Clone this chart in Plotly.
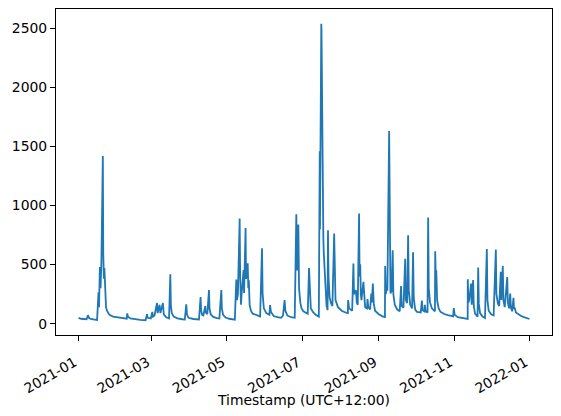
import pandas as pd
import plotly.graph_objects as go

# river flow readings
timestamps = [
    "2021-01-01 00:00", "2021-01-03 00:00", "2021-01-07 12:00", "2021-01-08 14:00", "2021-01-09 12:00",
    "2021-01-11 00:00", "2021-01-14 00:00", "2021-01-16 00:00", "2021-01-17 04:00", "2021-01-17 14:00",
    "2021-01-18 06:00", "2021-01-18 20:00", "2021-01-19 12:00", "2021-01-20 16:00", "2021-01-21 00:00",
    "2021-01-21 12:00", "2021-01-21 22:00", "2021-01-22 12:00", "2021-01-23 06:00", "2021-01-24 00:00",
    "2021-01-26 00:00", "2021-01-29 00:00", "2021-02-02 00:00", "2021-02-06 00:00", "2021-02-09 00:00",
    "2021-02-09 10:00", "2021-02-10 00:00", "2021-02-12 00:00", "2021-02-16 00:00", "2021-02-20 00:00",
    "2021-02-24 06:00", "2021-02-25 10:00", "2021-02-26 00:00", "2021-02-28 12:00", "2021-03-01 17:00",
    "2021-03-02 06:00", "2021-03-03 12:00", "2021-03-05 12:00", "2021-03-06 00:00", "2021-03-07 14:00",
    "2021-03-08 06:00", "2021-03-10 07:00", "2021-03-11 00:00", "2021-03-13 00:00", "2021-03-15 06:00",
    "2021-03-16 07:00", "2021-03-16 18:00", "2021-03-17 12:00", "2021-03-19 00:00", "2021-03-22 00:00",
    "2021-03-26 00:00", "2021-03-28 00:00", "2021-03-29 05:00", "2021-03-29 18:00", "2021-03-31 00:00",
    "2021-04-04 00:00", "2021-04-08 12:00", "2021-04-09 19:00", "2021-04-10 06:00", "2021-04-11 00:00",
    "2021-04-12 00:00", "2021-04-13 14:00", "2021-04-14 00:00", "2021-04-15 06:00", "2021-04-16 14:00",
    "2021-04-17 00:00", "2021-04-18 00:00", "2021-04-20 00:00", "2021-04-23 00:00", "2021-04-25 00:00",
    "2021-04-26 14:00", "2021-04-27 00:00", "2021-04-28 00:00", "2021-04-30 00:00", "2021-05-03 00:00",
    "2021-05-06 00:00", "2021-05-07 12:00", "2021-05-08 17:00", "2021-05-09 06:00", "2021-05-10 00:00",
    "2021-05-11 10:00", "2021-05-11 20:00", "2021-05-12 12:00", "2021-05-13 00:00", "2021-05-14 14:00",
    "2021-05-15 00:00", "2021-05-16 05:00", "2021-05-16 14:00", "2021-05-17 22:00", "2021-05-18 10:00",
    "2021-05-18 20:00", "2021-05-19 12:00", "2021-05-20 12:00", "2021-05-22 00:00", "2021-05-25 00:00",
    "2021-05-28 00:00", "2021-05-29 12:00", "2021-05-30 00:00", "2021-05-31 00:00", "2021-06-02 00:00",
    "2021-06-04 12:00", "2021-06-05 00:00", "2021-06-05 18:00", "2021-06-08 00:00", "2021-06-11 00:00",
    "2021-06-14 00:00", "2021-06-15 12:00", "2021-06-16 19:00", "2021-06-17 10:00", "2021-06-19 00:00",
    "2021-06-22 00:00", "2021-06-25 00:00", "2021-06-26 07:00", "2021-06-26 20:00", "2021-06-27 22:00",
    "2021-06-28 12:00", "2021-06-29 12:00", "2021-06-30 12:00", "2021-07-02 00:00", "2021-07-04 00:00",
    "2021-07-05 12:00", "2021-07-06 14:00", "2021-07-07 06:00", "2021-07-08 00:00", "2021-07-10 00:00",
    "2021-07-12 00:00", "2021-07-14 12:00", "2021-07-14 18:00", "2021-07-14 22:00", "2021-07-15 02:00",
    "2021-07-15 06:00", "2021-07-15 10:00", "2021-07-15 15:00", "2021-07-15 20:00", "2021-07-16 02:00",
    "2021-07-16 08:00", "2021-07-16 12:00", "2021-07-16 16:00", "2021-07-16 20:00", "2021-07-17 02:00",
    "2021-07-17 08:00", "2021-07-17 14:00", "2021-07-17 20:00", "2021-07-18 04:00", "2021-07-18 12:00",
    "2021-07-19 06:00", "2021-07-20 00:00", "2021-07-20 18:00", "2021-07-21 14:00", "2021-07-21 22:00",
    "2021-07-22 08:00", "2021-07-23 06:00", "2021-07-24 12:00", "2021-07-25 12:00", "2021-07-26 22:00",
    "2021-07-27 08:00", "2021-07-28 00:00", "2021-07-30 00:00", "2021-08-02 00:00", "2021-08-05 00:00",
    "2021-08-07 00:00", "2021-08-07 05:00", "2021-08-08 00:00", "2021-08-10 12:00", "2021-08-11 12:00",
    "2021-08-12 00:00", "2021-08-13 12:00", "2021-08-14 06:00", "2021-08-15 00:00", "2021-08-16 02:00",
    "2021-08-16 12:00", "2021-08-17 00:00", "2021-08-17 12:00", "2021-08-18 00:00", "2021-08-19 14:00",
    "2021-08-20 06:00", "2021-08-21 00:00", "2021-08-22 12:00", "2021-08-22 22:00", "2021-08-23 12:00",
    "2021-08-25 00:00", "2021-08-26 00:00", "2021-08-26 12:00", "2021-08-27 05:00", "2021-08-28 00:00",
    "2021-08-29 00:00", "2021-09-01 00:00", "2021-09-04 00:00", "2021-09-06 00:00", "2021-09-06 05:00",
    "2021-09-06 18:00", "2021-09-07 12:00", "2021-09-08 00:00", "2021-09-09 10:00", "2021-09-09 20:00",
    "2021-09-10 12:00", "2021-09-11 12:00", "2021-09-12 07:00", "2021-09-12 20:00", "2021-09-14 00:00",
    "2021-09-16 00:00", "2021-09-18 00:00", "2021-09-19 02:00", "2021-09-19 14:00", "2021-09-21 00:00",
    "2021-09-22 10:00", "2021-09-22 22:00", "2021-09-24 00:00", "2021-09-24 19:00", "2021-09-25 08:00",
    "2021-09-26 12:00", "2021-09-28 00:00", "2021-09-28 19:00", "2021-09-29 08:00", "2021-09-30 12:00",
    "2021-10-02 00:00", "2021-10-05 00:00", "2021-10-05 22:00", "2021-10-06 12:00", "2021-10-08 00:00",
    "2021-10-08 07:00", "2021-10-09 00:00", "2021-10-10 12:00", "2021-10-11 00:00", "2021-10-11 12:00",
    "2021-10-12 12:00", "2021-10-14 00:00", "2021-10-16 12:00", "2021-10-16 17:00", "2021-10-17 06:00",
    "2021-10-17 14:00", "2021-10-18 06:00", "2021-10-19 12:00", "2021-10-21 00:00", "2021-10-24 00:00",
    "2021-10-27 00:00", "2021-10-30 00:00", "2021-10-31 06:00", "2021-10-31 17:00", "2021-11-01 12:00",
    "2021-11-04 00:00", "2021-11-08 00:00", "2021-11-11 12:00", "2021-11-12 00:00", "2021-11-12 02:00",
    "2021-11-12 14:00", "2021-11-13 06:00", "2021-11-14 19:00", "2021-11-15 06:00", "2021-11-16 10:00",
    "2021-11-16 22:00", "2021-11-18 00:00", "2021-11-20 00:00", "2021-11-20 12:00", "2021-11-21 00:00",
    "2021-11-22 00:00", "2021-11-24 00:00", "2021-11-26 00:00", "2021-11-27 12:00", "2021-11-28 00:00",
    "2021-11-29 00:00", "2021-12-01 00:00", "2021-12-03 00:00", "2021-12-04 19:00", "2021-12-05 06:00",
    "2021-12-06 12:00", "2021-12-07 12:00", "2021-12-08 19:00", "2021-12-09 06:00", "2021-12-10 10:00",
    "2021-12-10 22:00", "2021-12-12 00:00", "2021-12-14 00:00", "2021-12-14 12:00", "2021-12-15 12:00",
    "2021-12-16 10:00", "2021-12-17 00:00", "2021-12-18 00:00", "2021-12-19 02:00", "2021-12-19 12:00",
    "2021-12-20 00:00", "2021-12-21 00:00", "2021-12-23 00:00", "2021-12-25 00:00", "2021-12-27 00:00",
    "2021-12-29 00:00", "2021-12-31 00:00", "2022-01-01 00:00",
]

flow = [
    50, 42, 38, 72, 48,
    40, 35, 32, 265, 140,
    480, 300, 520, 1418, 600,
    380, 470, 220, 140, 110,
    75, 60, 52, 46, 42,
    88, 60, 45, 38, 33,
    30, 80, 50, 45, 100,
    60, 70, 175, 90, 160,
    90, 175, 80, 55, 45,
    419, 150, 90, 60, 45,
    38, 36, 165, 80, 50,
    40, 36, 225, 110, 75,
    70, 150, 95, 80, 284,
    130, 80, 58, 48, 45,
    285, 130, 75, 52, 42,
    36, 34, 374, 200, 250,
    889, 400, 160, 250, 453,
    260, 810, 380, 512, 300,
    368, 160, 110, 85, 70,
    62, 638, 250, 130, 90,
    75, 157, 100, 65, 55,
    50, 70, 200, 110, 70,
    55, 50, 926, 450, 838,
    300, 180, 130, 105, 90,
    85, 470, 200, 130, 95,
    75, 60, 700, 1100, 750,
    1458, 800, 1420, 950, 1450,
    1800, 2536, 2480, 2226, 1500,
    1640, 1300, 1000, 720, 600,
    400, 250, 150, 115, 790,
    400, 220, 170, 150, 762,
    380, 200, 140, 110, 95,
    90, 200, 130, 110, 509,
    250, 284, 180, 160, 931,
    400, 503, 250, 200, 354,
    180, 140, 130, 208, 140,
    120, 256, 180, 340, 170,
    110, 80, 62, 56, 489,
    250, 312, 280, 1629, 500,
    256, 280, 622, 250, 160,
    120, 105, 318, 150, 135,
    550, 200, 175, 748, 280,
    160, 130, 604, 220, 120,
    100, 95, 195, 115, 105,
    160, 105, 95, 898, 300,
    180, 130, 105, 613, 350,
    453, 200, 130, 100, 82,
    72, 66, 62, 132, 75,
    55, 45, 36, 40, 376,
    180, 200, 340, 160, 370,
    150, 85, 60, 475, 170,
    90, 60, 48, 632, 200,
    110, 80, 70, 627, 250,
    170, 150, 440, 200, 489,
    200, 140, 395, 180, 130,
    255, 135, 105, 219, 125,
    138, 95, 78, 68, 58,
    50, 44, 40,
]

y_ticks = [0, 500, 1000, 1500, 2000, 2500]

df = pd.DataFrame({"Timestamp": pd.to_datetime(timestamps), "flow": flow})

# matplotlib-like 5% margins on both axes
t0, t1 = df["Timestamp"].min(), df["Timestamp"].max()
tpad = (t1 - t0) * 0.05
v0, v1 = df["flow"].min(), df["flow"].max()
vpad = (v1 - v0) * 0.05

fig = go.Figure()
fig.add_trace(go.Scatter(x=df["Timestamp"], y=df["flow"], mode="lines",
                         line=dict(color="#1f77b4", width=1.8), showlegend=False))

font = dict(family="DejaVu Sans", size=13.9, color="black")
axis_style = dict(showline=True, linecolor="black", linewidth=1.1, mirror=True,
                  showgrid=False, zeroline=False, ticks="outside", ticklen=5,
                  tickcolor="black", tickwidth=1.1, automargin=False, tickfont=font)

fig.update_xaxes(**axis_style, range=[t0 - tpad, t1 + tpad], dtick="M2",
                 tickformat="%Y-%m", tickangle=-30,
                 ticklabelstandoff=8, ticklabelshift=-4,
                 title=dict(text="Timestamp (UTC+12:00)", standoff=2, font=font))
fig.update_yaxes(**axis_style, range=[v0 - vpad, v1 + vpad], tickvals=y_ticks)

# page body keeps its 8px default margin, so the figure is sized to fit inside it
fig.update_layout(width=545, height=400, plot_bgcolor="white", paper_bgcolor="white",
                  margin=dict(l=48, r=1, t=1, b=73))
fig.write_html("out.html")
